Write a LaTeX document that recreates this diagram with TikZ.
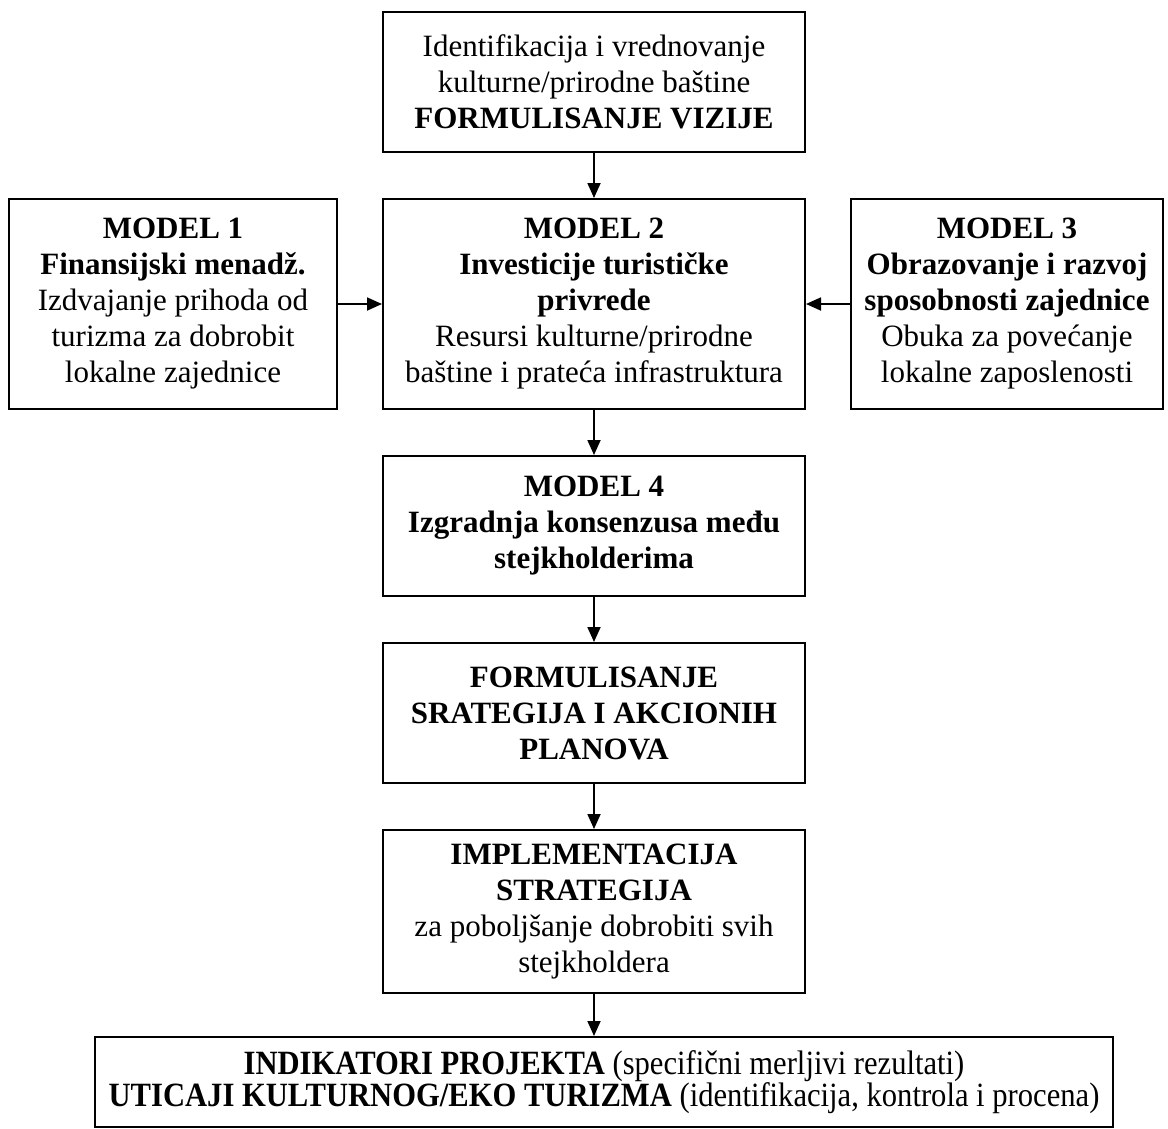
\documentclass[tikz,border=0pt]{standalone}
\usepackage{fontspec}
\setmainfont{Liberation Serif}
\usetikzlibrary{arrows.meta}
\begin{document}
\begin{tikzpicture}[x=1pt,y=-1pt,
  box/.style={draw,line width=2pt,inner sep=0pt,align=center,
    font=\fontsize{31}{36}\selectfont},
  link/.style={line width=1.8pt,-{Triangle[length=15pt,width=13pt]}}]
\useasboundingbox[fill=white] (0,0) rectangle (1168,1128);

% vision
\node[box,minimum width=422pt,minimum height=140pt] (vision) at (594,82)
  {Identifikacija i vrednovanje\\kulturne/prirodne baštine\\\textbf{FORMULISANJE VIZIJE}};

% the three models in one row
\node[box,minimum width=328pt,minimum height=210pt] (m1) at (173,304)
  {\textbf{MODEL 1}\\\textbf{Finansijski menadž.}\\Izdvajanje prihoda od\\turizma za dobrobit\\lokalne zajednice};
\node[box,minimum width=422pt,minimum height=210pt] (m2) at (594,304)
  {\textbf{MODEL 2}\\\textbf{Investicije turističke}\\\textbf{privrede}\\Resursi kulturne/prirodne\\baštine i prateća infrastruktura};
\node[box,minimum width=312pt,minimum height=210pt] (m3) at (1007,304)
  {\textbf{MODEL 3}\\\textbf{Obrazovanje i razvoj}\\\textbf{sposobnosti zajednice}\\Obuka za povećanje\\lokalne zaposlenosti};

% central chain
\node[box,minimum width=422pt,minimum height=140pt] (m4) at (594,526)
  {\textbf{MODEL 4}\\\textbf{Izgradnja konsenzusa među}\\\textbf{stejkholderima}};
\node[box,minimum width=422pt,minimum height=140pt] (plan) at (594,713)
  {\textbf{FORMULISANJE}\\\textbf{SRATEGIJA I AKCIONIH}\\\textbf{PLANOVA}};
\node[box,minimum width=422pt,minimum height=163pt] (impl) at (594,911.5)
  {\textbf{IMPLEMENTACIJA}\\\textbf{STRATEGIJA}\\za poboljšanje dobrobiti svih\\stejkholdera};

% indicators, set in a condensed face
\node[box,minimum width=1018pt,minimum height=90pt,font=\fontsize{34}{30}\selectfont] (ind) at (604,1082)
  {\scalebox{0.9}[1]{\textbf{INDIKATORI PROJEKTA} (specifični merljivi rezultati)}\\
   \scalebox{0.9}[1]{\textbf{UTICAJI KULTURNOG/EKO TURIZMA} (identifikacija, kontrola i procena)}};

\draw[link] (vision) -- (m2);
\draw[link] (m1) -- (m2);
\draw[link] (m3) -- (m2);
\draw[link] (m2) -- (m4);
\draw[link] (m4) -- (plan);
\draw[link] (plan) -- (impl);
\draw[link] (impl.south) -- (impl.south |- ind.north);
\end{tikzpicture}
\end{document}
